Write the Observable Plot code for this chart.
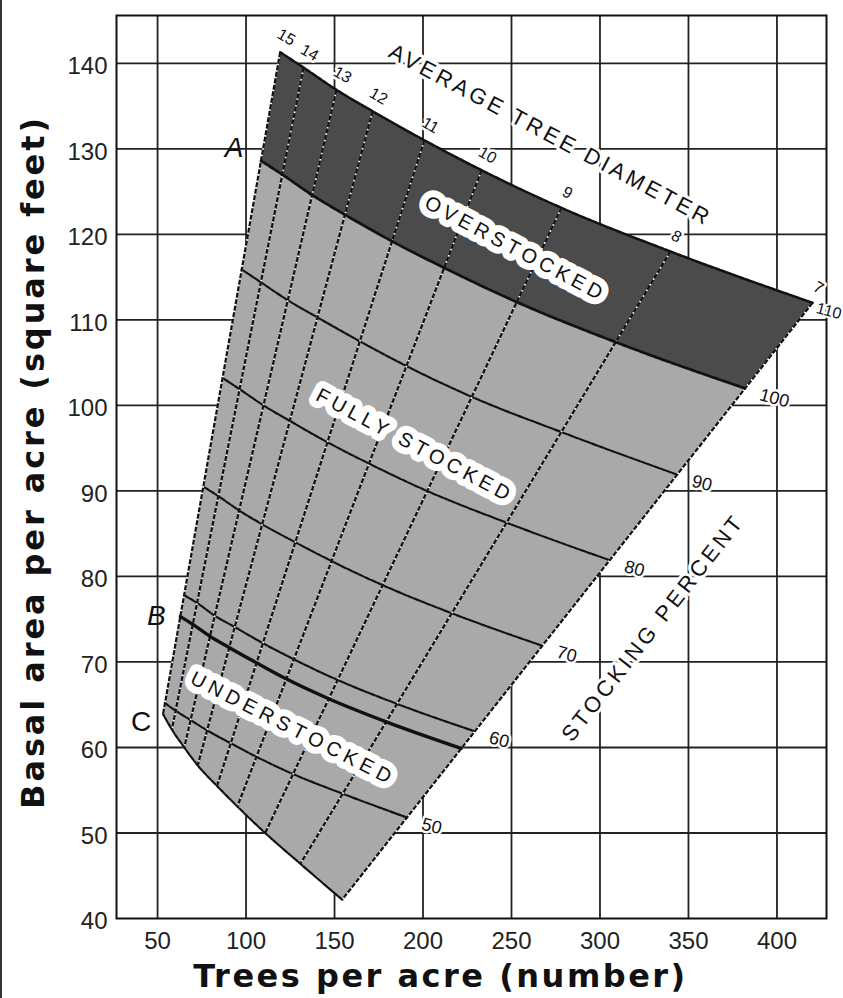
<!DOCTYPE html>
<html><head><meta charset="utf-8">
<script src="https://cdn.jsdelivr.net/npm/d3@7"></script>
<script src="https://cdn.jsdelivr.net/npm/@observablehq/plot@0.6"></script>
<style>
html,body{margin:0;padding:0;background:#fff;}
#chart{position:relative;width:843px;height:998px;overflow:hidden;background:#fff;}
#edge{position:absolute;left:0;top:0;width:2px;height:998px;background:#333;}
</style></head>
<body><div id="chart"><div id="edge"></div></div>
<script>
// ---- axis ticks ----
const xTicks = [50, 100, 150, 200, 250, 300, 350, 400];
const yTicks = [40, 50, 60, 70, 80, 90, 100, 110, 120, 130, 140];

// ---- average tree diameter (inches), ordered 7 -> 15 ----
const diameters = [7, 8, 9, 10, 11, 12, 13, 14, 15];

// ---- stocking curves: trees per acre and basal area at each diameter ----
const tpa110 = [420.1, 339.8, 278.2, 233.1, 200.8, 171.5, 151.1, 132.5, 119.3];
const ba110  = [112.0, 118.0, 123.1, 127.5, 131.0, 134.4, 136.9, 139.5, 141.3];
const tpa100 = [381.9, 308.9, 252.9, 211.9, 182.5, 155.9, 137.4, 120.5, 108.5];
const ba100  = [102.0, 107.4, 112.1, 116.1, 119.2, 122.3, 124.6, 127.0, 128.6];
const tpa90  = [343.7, 278.0, 227.6, 190.7, 164.3, 140.3, 123.6, 108.4, 97.6];
const ba90   = [91.9, 96.9, 101.0, 104.6, 107.5, 110.3, 112.3, 114.4, 115.9];
const tpa80  = [305.5, 247.1, 202.3, 169.5, 146.0, 124.7, 109.9, 96.4, 86.8];
const ba80   = [81.9, 86.3, 90.0, 93.2, 95.7, 98.2, 100.0, 101.9, 103.2];
const tpa70  = [267.3, 216.2, 177.0, 148.3, 127.8, 109.1, 96.2, 84.3, 75.9];
const ba70   = [71.9, 75.7, 79.0, 81.8, 84.0, 86.1, 87.7, 89.4, 90.5];
const tpa60  = [229.1, 185.3, 151.7, 127.1, 109.5, 93.5, 82.4, 72.3, 65.1];
const ba60   = [61.9, 65.1, 67.9, 70.3, 72.2, 74.1, 75.4, 76.9, 77.8];
const tpaB   = [221.5, 179.2, 146.7, 122.9, 105.9, 90.4, 79.7, 69.9, 62.9];
const baB    = [59.9, 63.0, 65.7, 68.0, 69.9, 71.7, 73.0, 74.4, 75.3];
const tpa50  = [191.0, 154.5, 126.5, 106.0, 91.3, 78.0, 68.7, 60.2, 54.2];
const ba50   = [51.8, 54.6, 56.9, 58.9, 60.5, 62.0, 63.2, 64.3, 65.2];
const tpaC   = [154.3, 130.7, 110.8, 95.1, 83.6, 72.7, 65.1, 58.1, 53.1];
const baC    = [42.2, 46.4, 50.0, 53.1, 55.5, 57.9, 60.0, 62.1, 63.9];

// ---- text ----
const stockLabels = ["100", "90", "80", "70", "60", "50"];
const xTitle = "Trees per acre (number)";
const yTitle = "Basal area per acre (square feet)";
const annotations = [
  {text: "AVERAGE TREE DIAMETER", tpa: 272, ba: 131.6, rotate: 28},
  {text: "STOCKING PERCENT", tpa: 330, ba: 74.0, rotate: -52},
  {text: "OVERSTOCKED", tpa: 252.3, ba: 118.3, rotate: 28},
  {text: "FULLY STOCKED", tpa: 195.5, ba: 95.3, rotate: 28},
  {text: "UNDERSTOCKED", tpa: 126.6, ba: 62.2, rotate: 27}
];

const pts = (t, b) => t.map((v, i) => ({tpa: v, ba: b[i]}));
const c110 = pts(tpa110, ba110), c100 = pts(tpa100, ba100), c90 = pts(tpa90, ba90),
      c80 = pts(tpa80, ba80), c70 = pts(tpa70, ba70), c60 = pts(tpa60, ba60),
      cB = pts(tpaB, baB), c50 = pts(tpa50, ba50), cC = pts(tpaC, baC);

const lightPoly = [...c100, ...cC.slice().reverse()];
const darkPoly = [...c110, ...c100.slice().reverse()];

const diamLinks = diameters.map((d, i) => ({d, x1: tpa110[i], y1: ba110[i], x2: tpaC[i], y2: baC[i]}));

function dashed(data, w = 2.2) {
  return [
    Plot.line(data, {x: "tpa", y: "ba", stroke: "white", strokeWidth: 1.6, curve: "monotone-x"}),
    Plot.line(data, {x: "tpa", y: "ba", stroke: "#111", strokeWidth: w, strokeDasharray: "5,1.6", curve: "monotone-x"})
  ];
}

const halo = {stroke: "white", paintOrder: "stroke", strokeLinejoin: "round"};

const chart = Plot.plot({
  width: 843,
  height: 998,
  marginLeft: 116,
  marginRight: 17,
  marginTop: 15,
  marginBottom: 80,
  x: {domain: [26.8, 428]},
  y: {domain: [40, 145.6]},
  style: {fontFamily: "Liberation Sans, Arial, sans-serif", fontSize: "24px", color: "#222", background: "white"},
  marks: [
    Plot.ruleX(xTicks, {stroke: "#222", strokeWidth: 1.8}),
    Plot.ruleY(yTicks.filter(v => v > 40), {stroke: "#222", strokeWidth: 1.8}),
    Plot.frame({stroke: "#111", strokeWidth: 2}),
    Plot.line(lightPoly, {x: "tpa", y: "ba", fill: "#a9a9a9", stroke: "none", curve: "linear-closed"}),
    Plot.line(darkPoly, {x: "tpa", y: "ba", fill: "#4b4b4b", stroke: "none", curve: "linear-closed"}),
    ...dashed(c90), ...dashed(c80), ...dashed(c70), ...dashed(c60), ...dashed(c50),
    Plot.link(diamLinks, {x1: "x1", y1: "y1", x2: "x2", y2: "y2", stroke: "white", strokeWidth: 1.6}),
    Plot.link(diamLinks, {x1: "x1", y1: "y1", x2: "x2", y2: "y2", stroke: "#111", strokeWidth: 2.2, strokeDasharray: "5,1.6"}),
    ...dashed(cC),
    Plot.line(cB, {x: "tpa", y: "ba", stroke: "#111", strokeWidth: 3.4, curve: "monotone-x"}),
    ...dashed(c100, 2.8),
    ...dashed(c110, 2.6),
    // region & curve annotations
    Plot.text(annotations.slice(2), {x: "tpa", y: "ba", text: "text", rotate: d => d.rotate, fontSize: 20,
      fill: "#111", strokeWidth: 14, ...halo}),
    Plot.text(annotations.slice(0, 2), {x: "tpa", y: "ba", text: "text", rotate: d => d.rotate, fontSize: 22,
      fill: "#111", strokeWidth: 6, ...halo}),
    // diameter labels along the top
    Plot.text(diameters, {x: tpa110, y: ba110, text: d => String(d), dx: 6, dy: -15, rotate: 30,
      fontSize: 16, fill: "#111", strokeWidth: 5, ...halo}),
    // stocking percent labels at right ends
    Plot.text(stockLabels, {x: [tpa100[0], tpa90[0], tpa80[0], tpa70[0], tpa60[0], tpa50[0]],
      y: [ba100[0], ba90[0], ba80[0], ba70[0], ba60[0], ba50[0]], text: d => d, textAnchor: "start",
      dx: 15, dy: 6, rotate: 15, fontSize: 18, fill: "#111", strokeWidth: 5, ...halo}),
    Plot.text(["110"], {x: [tpa110[0]], y: [ba110[0]], text: d => d, textAnchor: "start", dx: 4, dy: 5,
      rotate: 15, fontSize: 16, fill: "#111", strokeWidth: 4, ...halo}),
    // A, B, C line labels
    Plot.text(["A"], {x: [tpa100[8]], y: [ba100[8]], text: d => d, dx: -27, dy: -13, fontSize: 28, fontStyle: "italic", fill: "#111"}),
    Plot.text(["B"], {x: [tpaB[8]], y: [baB[8]], text: d => d, dx: -24, dy: -1, fontSize: 28, fontStyle: "italic", fill: "#111"}),
    Plot.text(["C"], {x: [tpaC[8]], y: [baC[8]], text: d => d, dx: -22, dy: 8, fontSize: 28, fill: "#111"}),
    // axes
    Plot.axisX({ticks: xTicks, tickSize: 0, tickPadding: 13, fontSize: 24, label: null}),
    Plot.axisY({ticks: yTicks, tickSize: 0, tickPadding: 9, fontSize: 24, label: null, dy: 3}),
    Plot.text([xTitle], {frameAnchor: "bottom", text: d => d, dx: -31, dy: 68, fontSize: 32, fontWeight: "bold",
      fontFamily: "DejaVu Sans", fill: "#111"}),
    Plot.text([yTitle], {frameAnchor: "left", textAnchor: "middle", text: d => d, rotate: -90, dx: -83, dy: -5,
      fontSize: 32, fontWeight: "bold", fontFamily: "DejaVu Sans", fill: "#111"})
  ]
});

const spacing = {
  [xTitle]: 2.5, [yTitle]: 2.9,
  "AVERAGE TREE DIAMETER": 3.5, "STOCKING PERCENT": 3.5,
  "OVERSTOCKED": 4.5, "FULLY STOCKED": 4.5, "UNDERSTOCKED": 5
};
chart.querySelectorAll("text").forEach(t => {
  const s = spacing[t.textContent];
  if (s != null) t.style.letterSpacing = s + "px";
});
chart.style.display = "block";
document.getElementById("chart").appendChild(chart);
</script>
</body></html>
